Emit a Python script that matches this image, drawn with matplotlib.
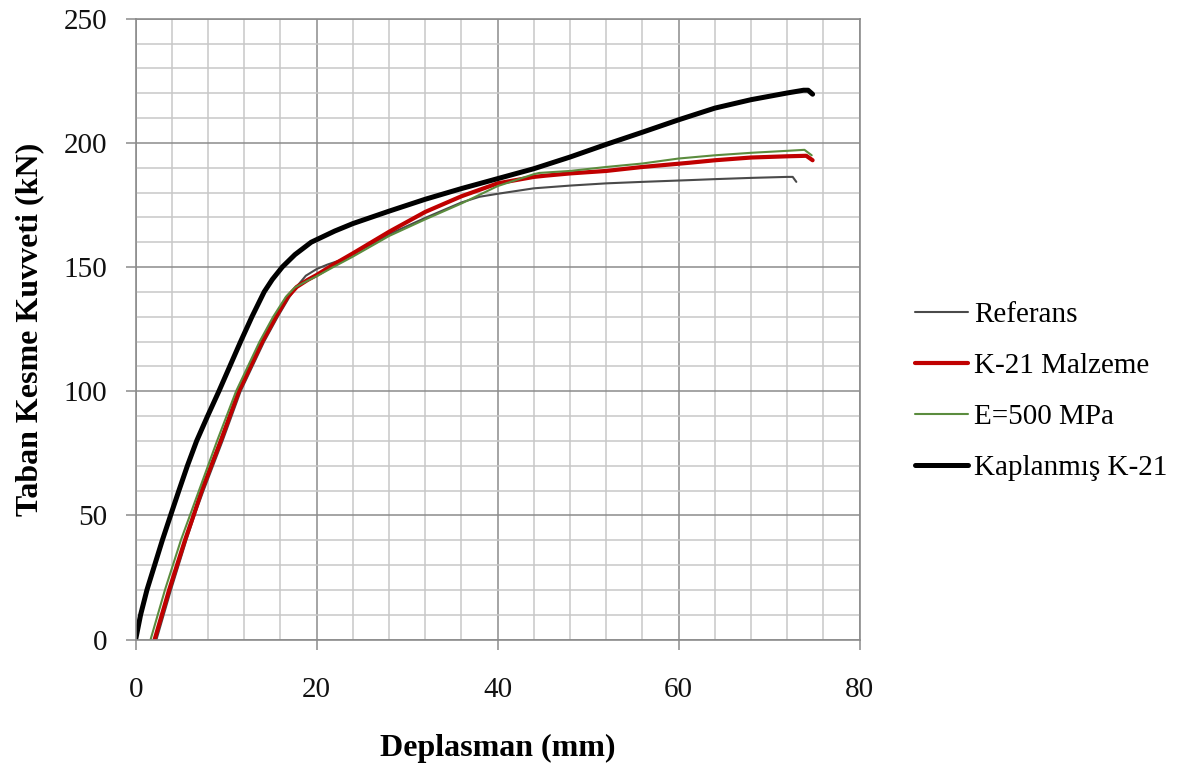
import matplotlib
matplotlib.use("Agg")
import matplotlib.pyplot as plt
from matplotlib.ticker import MultipleLocator

plt.rcParams['font.family'] = ['Liberation Serif', 'DejaVu Serif']

# Deplasman (mm) / taban kesme kuvveti (kN) okumalari
ref_x = [2.3, 3.9, 5.6, 6.5, 7.5, 9.6, 11.6, 14.2, 15.7, 17.0, 18.0, 18.8, 20.0, 21.2,
         22.5, 24.0, 28.0, 32.0, 36.0, 38.0, 40.0, 44.0, 48.0, 52.0, 56.0, 61.2, 64.0,
         68.0, 72.0, 72.6, 73.0]
ref_y = [0, 20, 40, 50, 60, 80, 100, 120, 130, 138, 143, 146.5, 149.2, 151,
         152.6, 155, 163.2, 169.8, 176.0, 178.3, 179.5, 181.7, 182.8, 183.7, 184.3, 185.0, 185.4,
         185.9, 186.3, 186.3, 184.3]

k21_x = [2.1, 3.7, 5.45, 6.4, 7.3, 9.4, 11.4, 14.0, 15.5, 16.8, 17.8, 19.0, 20.0, 22.0,
         24.0, 28.0, 32.0, 36.0, 40.0, 44.0, 45.3, 48.0, 52.0, 56.0, 61.2, 64.0, 68.0,
         72.0, 74.1, 74.8]
k21_y = [0, 20, 40, 50, 60, 80, 100, 120, 130, 138, 142, 144.8, 146.8, 151.3,
         155.5, 164.2, 172.2, 178.5, 183.7, 186.3, 186.8, 187.7, 188.7, 190.3, 192.0, 193.0, 194.1,
         194.6, 194.8, 193.0]

e500_x = [1.65, 3.24, 5.0, 6.0, 7.0, 9.0, 11.1, 13.7, 15.2, 16.6, 17.6, 19.0, 20.0, 22.0,
          24.0, 28.0, 32.0, 36.0, 40.0, 44.0, 44.6, 48.0, 52.0, 56.0, 60.0, 64.0, 68.0,
          72.0, 73.9, 74.7]
e500_y = [0, 20, 40, 50, 60, 80, 100, 120, 130, 138, 141.8, 144.5, 146.3, 150.3,
          154.2, 162.5, 169.2, 175.6, 182.6, 187.4, 187.9, 188.7, 190.3, 191.7, 193.7, 195.0, 196.0,
          196.8, 197.2, 195.0]

kap_x = [0, 0.55, 1.25, 2.1, 2.95, 3.86, 4.78, 5.72, 6.74, 7.95, 9.2, 10.4, 11.6, 12.85,
         14.2, 15.1, 16.2, 17.6, 19.4, 22.0, 24.0, 28.0, 32.0, 36.0, 40.0, 44.0, 48.0,
         52.0, 56.0, 60.0, 64.0, 68.0, 72.0, 73.8, 74.3, 74.8]
kap_y = [0, 10, 20, 30, 40, 50, 60, 70, 80, 90, 100, 110, 120, 130,
         140, 145, 150, 155, 160, 164.5, 167.5, 172.5, 177.3, 181.6, 185.6, 189.6, 194.3,
         199.4, 204.3, 209.3, 214.0, 217.4, 220.1, 221.2, 221.2, 219.6]

fig = plt.figure(figsize=(11.92, 7.67), dpi=100)
ax = fig.add_axes([0.1138, 0.1662, 0.6074, 0.8094])

ax.plot(ref_x, ref_y, color='#4a4a4a', lw=1.5, label='Referans', solid_capstyle='round')
ax.plot(k21_x, k21_y, color='#c00000', lw=3.0, label='K-21 Malzeme', solid_capstyle='round')
ax.plot(e500_x, e500_y, color='#5b8c3e', lw=1.5, label='E=500 MPa', solid_capstyle='round')
ax.plot(kap_x, kap_y, color='#000000', lw=3.6, label='Kaplanmış K-21', solid_capstyle='round')

ax.set_xlim(0, 80)
ax.set_ylim(0, 250)
ax.xaxis.set_major_locator(MultipleLocator(20))
ax.xaxis.set_minor_locator(MultipleLocator(4))
ax.yaxis.set_major_locator(MultipleLocator(50))
ax.yaxis.set_minor_locator(MultipleLocator(10))

ax.grid(True, which='major', color='#8c8c8c', lw=1.1)
ax.grid(True, which='minor', color='#c8c8c8', lw=1.1)
ax.set_axisbelow(True)

for side in ['left', 'bottom', 'top', 'right']:
    ax.spines[side].set_color('#8c8c8c')
    ax.spines[side].set_linewidth(1.2)

ax.tick_params(which='major', direction='out', length=7.5, width=1.1, color='#8c8c8c',
               labelsize=21, labelcolor='#111111')
ax.tick_params(axis='x', which='major', pad=19.5)
ax.tick_params(axis='y', which='major', pad=13)
ax.tick_params(which='minor', length=0)

ax.set_xlabel('Deplasman (mm)', fontsize=23, fontweight='bold', labelpad=22)
ax.set_ylabel('Taban Kesme Kuvveti (kN)', fontsize=23, fontweight='bold', labelpad=14)

fig.legend(loc='center left', bbox_to_anchor=(0.7676, 0.490), frameon=False,
           fontsize=21, handlelength=1.82, handletextpad=0.2, labelspacing=0.84,
           borderpad=0, borderaxespad=0)

fig.savefig('out.png', dpi=100)
